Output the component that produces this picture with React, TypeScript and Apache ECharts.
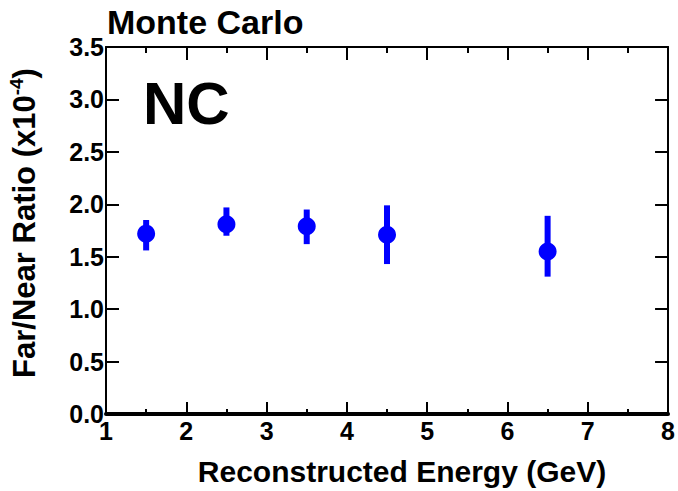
import React, { useEffect, useRef } from "react";
import * as echarts from "echarts";

const energies = [1.5, 2.5, 3.5, 4.5, 6.5];
const ratios = [1.72, 1.81, 1.79, 1.71, 1.55];
const errLow = [1.56, 1.7, 1.62, 1.43, 1.31];
const errHigh = [1.85, 1.97, 1.95, 1.99, 1.89];
const yTicks = [0, 0.5, 1, 1.5, 2, 2.5, 3, 3.5];

const FONT = "'Liberation Sans', Arial, Helvetica, sans-serif";

export default function App() {
  const ref = useRef<HTMLDivElement>(null);
  useEffect(() => {
    document.body.style.margin = "0";
    const chart = echarts.init(ref.current!, null, { renderer: "svg" });
    const grid = { left: 106, right: 5, top: 47, bottom: 77 };
    const axisCommon = {
      type: "value" as const,
      min: 1,
      max: 8,
      interval: 1,
      splitLine: { show: false },
    };
    const yCommon = {
      type: "value" as const,
      min: yTicks[0],
      max: yTicks[yTicks.length - 1],
      interval: 0.5,
      splitLine: { show: false },
    };
    chart.setOption({
      animation: false,
      backgroundColor: "#ffffff",
      grid,
      xAxis: [
        {
          ...axisCommon,
          position: "bottom",
          axisLine: { show: true, onZero: false, lineStyle: { color: "#000", width: 4 } },
          axisTick: { show: true, inside: true, length: 12, lineStyle: { color: "#000", width: 2 } },
          minorTick: { show: true, splitNumber: 2, length: 5, lineStyle: { color: "#000", width: 2 } },
          axisLabel: {
            show: true,
            margin: 4,
            fontFamily: FONT,
            fontWeight: "bold",
            fontSize: 25,
            color: "#000",
          },
        },
        {
          ...axisCommon,
          position: "top",
          axisLine: { show: true, onZero: false, lineStyle: { color: "#000", width: 2 } },
          axisTick: { show: true, inside: true, length: 13, lineStyle: { color: "#000", width: 2 } },
          minorTick: { show: true, splitNumber: 2, length: 6, lineStyle: { color: "#000", width: 2 } },
          axisLabel: { show: false },
        },
      ],
      yAxis: [
        {
          ...yCommon,
          position: "left",
          axisLine: { show: true, onZero: false, lineStyle: { color: "#000", width: 2 } },
          axisTick: { show: true, inside: true, length: 13, lineStyle: { color: "#000", width: 2 } },
          axisLabel: {
            show: true,
            margin: 2,
            fontFamily: FONT,
            fontWeight: "bold",
            fontSize: 25,
            color: "#000",
            formatter: (v: number) => v.toFixed(1),
          },
        },
        {
          ...yCommon,
          position: "right",
          axisLine: { show: true, onZero: false, lineStyle: { color: "#000", width: 2 } },
          axisTick: { show: true, inside: true, length: 13, lineStyle: { color: "#000", width: 2 } },
          axisLabel: { show: false },
        },
      ],
      graphic: [
        {
          type: "text",
          left: 107,
          top: 5,
          style: {
            text: "Monte Carlo",
            font: `bold 34px ${FONT}`,
            fill: "#000",
          },
        },
        {
          type: "text",
          left: 143,
          top: 73,
          style: {
            text: "NC",
            font: `bold 60px ${FONT}`,
            fill: "#000",
          },
        },
        {
          type: "text",
          x: 402,
          y: 471,
          style: {
            text: "Reconstructed Energy (GeV)",
            font: `bold 30px ${FONT}`,
            fill: "#000",
            align: "center",
            verticalAlign: "middle",
          },
        },
        {
          type: "text",
          x: 24,
          y: 223,
          rotation: Math.PI / 2,
          style: {
            text: "{a|Far/Near Ratio (x10}{s|-4}{a|)}",
            align: "center",
            verticalAlign: "middle",
            rich: {
              a: { font: `bold 31px ${FONT}`, fill: "#000", lineHeight: 34 },
              s: { font: `bold 19px ${FONT}`, fill: "#000", verticalAlign: "top", lineHeight: 34, padding: [0, 0, 13, 0] },
            },
          },
        },
      ],
      series: [
        {
          type: "custom",
          xAxisIndex: 0,
          yAxisIndex: 0,
          data: energies.map((e, i) => [e, errLow[i], errHigh[i]]),
          renderItem: (params: any, api: any) => {
            const lo = api.coord([api.value(0), api.value(1)]);
            const hi = api.coord([api.value(0), api.value(2)]);
            return {
              type: "rect",
              shape: { x: lo[0] - 3, y: hi[1], width: 6, height: lo[1] - hi[1] },
              style: { fill: "#0000ff" },
            };
          },
          z: 2,
        },
        {
          type: "scatter",
          xAxisIndex: 0,
          yAxisIndex: 0,
          data: energies.map((e, i) => [e, ratios[i]]),
          symbol: "circle",
          symbolSize: 18,
          itemStyle: { color: "#0000ff", opacity: 1 },
          z: 3,
        },
      ],
    });
    return () => chart.dispose();
  }, []);
  return <div ref={ref} style={{ width: 678, height: 491 }} />;
}
